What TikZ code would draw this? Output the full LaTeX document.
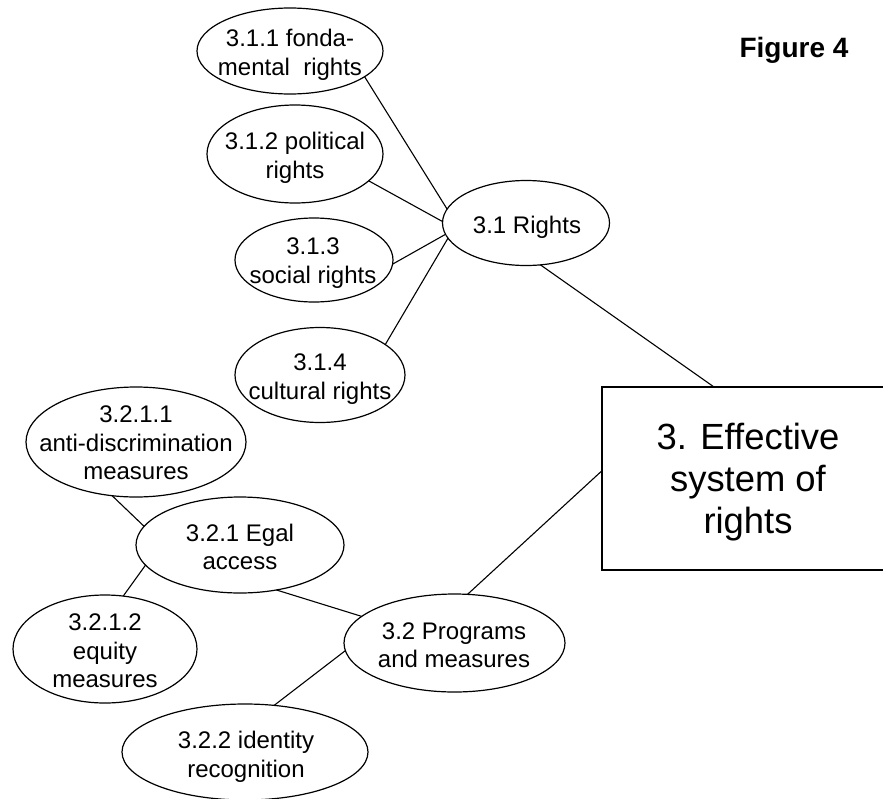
\documentclass[tikz,border=0pt]{standalone}
\usepackage{fontspec}
\setmainfont{Liberation Sans}
\usetikzlibrary{shapes.geometric}
\begin{document}
\begin{tikzpicture}[x=1pt,y=-1pt,
  oval/.style={ellipse, draw, line width=1.2pt, inner sep=0pt, outer sep=0pt},
  lbl/.style={align=center, inner sep=0pt, font=\fontsize{24}{28.5}\selectfont},
  bigbox/.style={rectangle, draw, line width=1.3pt, inner sep=0pt, outer sep=0pt},
  bigtxt/.style={align=center, inner sep=0pt, font=\fontsize{36.4}{42}\selectfont},
  link/.style={line width=1.1pt}]
\clip (0,0) rectangle (883,798);
\fill[white] (0,0) rectangle (883,798);

% title
\node[inner sep=0pt, font=\fontsize{28}{33}\selectfont\bfseries] (fig) at (794,50) {Figure 4};

% 3.1 group
\node[oval, minimum width=186pt, minimum height=86pt] (e311) at (290,51) {};
\node[lbl] (t311) at (290,55) {3.1.1 fonda-\\mental\ \ rights};
\node[oval, minimum width=176pt, minimum height=98pt] (e312) at (295,154) {};
\node[lbl] (t312) at (295,158) {3.1.2 political\\rights};
\node[oval, minimum width=158pt, minimum height=84pt] (e313) at (314,260) {};
\node[lbl] (t313) at (313,263) {3.1.3\\social rights};
\node[oval, minimum width=170pt, minimum height=95pt] (e314) at (320,375) {};
\node[lbl] (t314) at (320,379) {3.1.4\\cultural rights};
\node[oval, minimum width=167pt, minimum height=85pt] (r31) at (526,223) {};
\node[lbl] (tr31) at (527,227) {3.1 Rights};

% main box (its right side runs past the picture's edge)
\node[bigbox, minimum width=298pt, minimum height=183pt] (box) at (751,478.5) {};
\node[bigtxt] (tbox) at (748,482) {3. Effective\\system of\\rights};

% 3.2 group
\node[oval, minimum width=220pt, minimum height=110pt] (e3211) at (136,442) {};
\node[lbl] (t3211) at (136,443) {3.2.1.1\\anti-discrimination\\measures};
\node[oval, minimum width=208pt, minimum height=96pt] (e321) at (240,545) {};
\node[lbl] (t321) at (240,547) {3.2.1 Egal\\access};
\node[oval, minimum width=184pt, minimum height=108pt] (e3212) at (105,649) {};
\node[lbl] (t3212) at (105,651) {3.2.1.2\\equity\\measures};
\node[oval, minimum width=221pt, minimum height=98pt] (p32) at (454.5,643) {};
\node[lbl] (tp32) at (454,645) {3.2 Programs\\and measures};
\node[oval, minimum width=246pt, minimum height=96pt] (e322) at (245,752) {};
\node[lbl] (t322) at (246,757) {3.2.2 identity\\recognition};

% connectors
\draw[link] (e311.-19.6) -- (r31.170.1);
\draw[link] (e312.-20.5) -- (r31.179);
\draw[link] (e313.-3.6) -- (r31.188.5);
\draw[link] (e314.25.2) -- (r31.191.2);
\draw[link] (r31.-71.6) -- (box.112.55);
\draw[link] (p32.75.7) -- (box.177.9);
\draw[link] (e3211.246.4) -- (e321.169.5);
\draw[link] (e321.192.8) -- (e3212.71.6);
\draw[link] (e321.-51.2) -- (p32.164.3);
\draw[link] (p32.184.7) -- (e322.58.3);
\end{tikzpicture}
\end{document}
